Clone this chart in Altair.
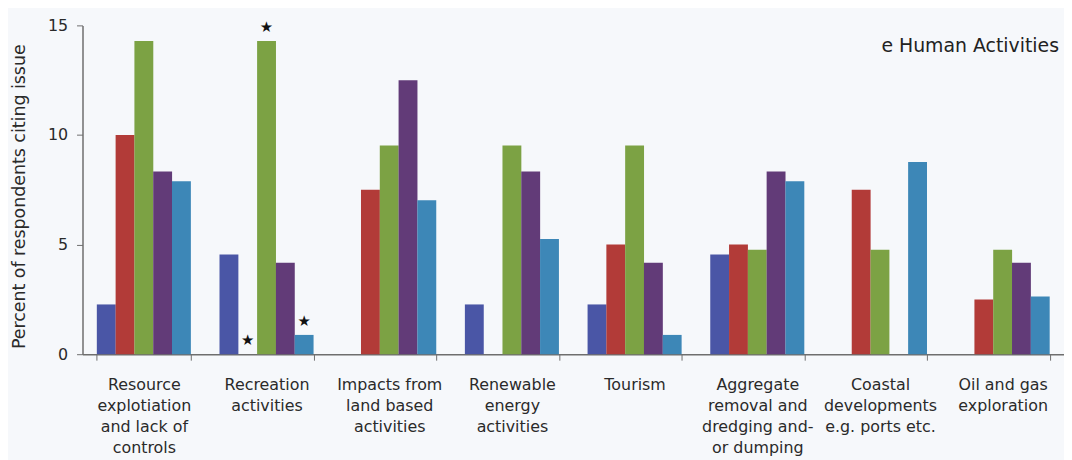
import altair as alt
import pandas as pd

categories = [
    "Resource|explotiation|and lack of|controls",
    "Recreation|activities",
    "Impacts from|land based|activities",
    "Renewable|energy|activities",
    "Tourism",
    "Aggregate|removal and|dredging and-|or dumping",
    "Coastal|developments|e.g. ports etc.",
    "Oil and gas|exploration",
]
series_names = ["Series 1", "Series 2", "Series 3", "Series 4", "Series 5"]
series_colors = ["#4a56a6", "#b23b38", "#7ca244", "#623b78", "#3d87b7"]

s1 = [2.27, 4.55, 0.0, 2.27, 2.27, 4.55, 0.0, 0.0]
s2 = [10.0, 0.0, 7.5, 0.0, 5.0, 5.0, 7.5, 2.5]
s3 = [14.29, 14.29, 9.52, 9.52, 9.52, 4.76, 4.76, 4.76]
s4 = [8.33, 4.17, 12.5, 8.33, 4.17, 8.33, 0.0, 4.17]
s5 = [7.89, 0.88, 7.02, 5.26, 0.88, 7.89, 8.77, 2.63]

star_category = [categories[1], categories[1], categories[1]]
star_series = ["Series 2", "Series 3", "Series 5"]
star_value = [0.0, 14.29, 0.88]

rows = []
for name, vals in zip(series_names, [s1, s2, s3, s4, s5]):
    for c, v in zip(categories, vals):
        rows.append({"category": c, "series": name, "value": v})
df = pd.DataFrame(rows)
stars = pd.DataFrame({"category": star_category, "series": star_series, "value": star_value})

FONT = "DejaVu Sans"
BG = "#f6f8fb"

x_enc = alt.X(
    "category:N",
    sort=categories,
    scale=alt.Scale(paddingInner=0.234, paddingOuter=0.117),
    axis=alt.Axis(
        title=None,
        labelAngle=0,
        labelExpr="split(datum.label, '|')",
        labelFont=FONT,
        labelFontSize=16,
        labelColor="#2a2a2a",
        labelLineHeight=21,
        labelPadding=17,
        labelBaseline="top",
        tickBand="extent",
        tickSize=6,
        tickColor="#6e6e6e",
        domainColor="#6e6e6e",
        domainWidth=1.5,
        labelLimit=200,
    ),
)
xoff = alt.XOffset("series:N", sort=series_names,
                   scale=alt.Scale(paddingInner=0, paddingOuter=0))
y_enc = alt.Y(
    "value:Q",
    scale=alt.Scale(domain=[0, 15], nice=False),
    axis=alt.Axis(
        title="Percent of respondents citing issue",
        values=[0, 5, 10, 15],
        grid=False,
        labelFont=FONT,
        labelFontSize=16,
        labelColor="#2a2a2a",
        labelPadding=9,
        tickSize=6,
        tickColor="#6e6e6e",
        domainColor="#6e6e6e",
        domainWidth=1.5,
        titleFont=FONT,
        titleFontSize=17.5,
        titleFontWeight="normal",
        titleColor="#2a2a2a",
        titleAngle=270,
        titleBaseline="middle",
        titleAlign="center",
        titleX=-63,
        titleY=172,
    ),
)

bars = alt.Chart(df).mark_bar(size=19).encode(
    x=x_enc,
    xOffset=xoff,
    y=y_enc,
    color=alt.Color("series:N", sort=series_names,
                    scale=alt.Scale(domain=series_names, range=series_colors),
                    legend=None),
)

star_marks = alt.Chart(stars).mark_text(
    text="★", fontSize=15, color="#111111", baseline="middle", dy=-14, font=FONT
).encode(
    x=alt.X("category:N", sort=categories),
    xOffset=alt.XOffset("series:N", sort=series_names),
    y=alt.Y("value:Q"),
)

chart = alt.layer(bars, star_marks).properties(
    width=988,
    height=331,
    autosize=alt.AutoSizeParams(type="none"),
    padding={"left": 75, "top": 16, "right": 0, "bottom": 105},
    title=alt.TitleParams(
        "e Human Activities",
        anchor="end",
        orient="top",
        font=FONT,
        fontSize=19,
        fontWeight="normal",
        color="#222222",
        dy=43,
        dx=-5,
    ),
).configure(background=BG).configure_view(stroke=None, fill=BG)

chart.save("out.html", embed_options={"renderer": "svg", "actions": False})
